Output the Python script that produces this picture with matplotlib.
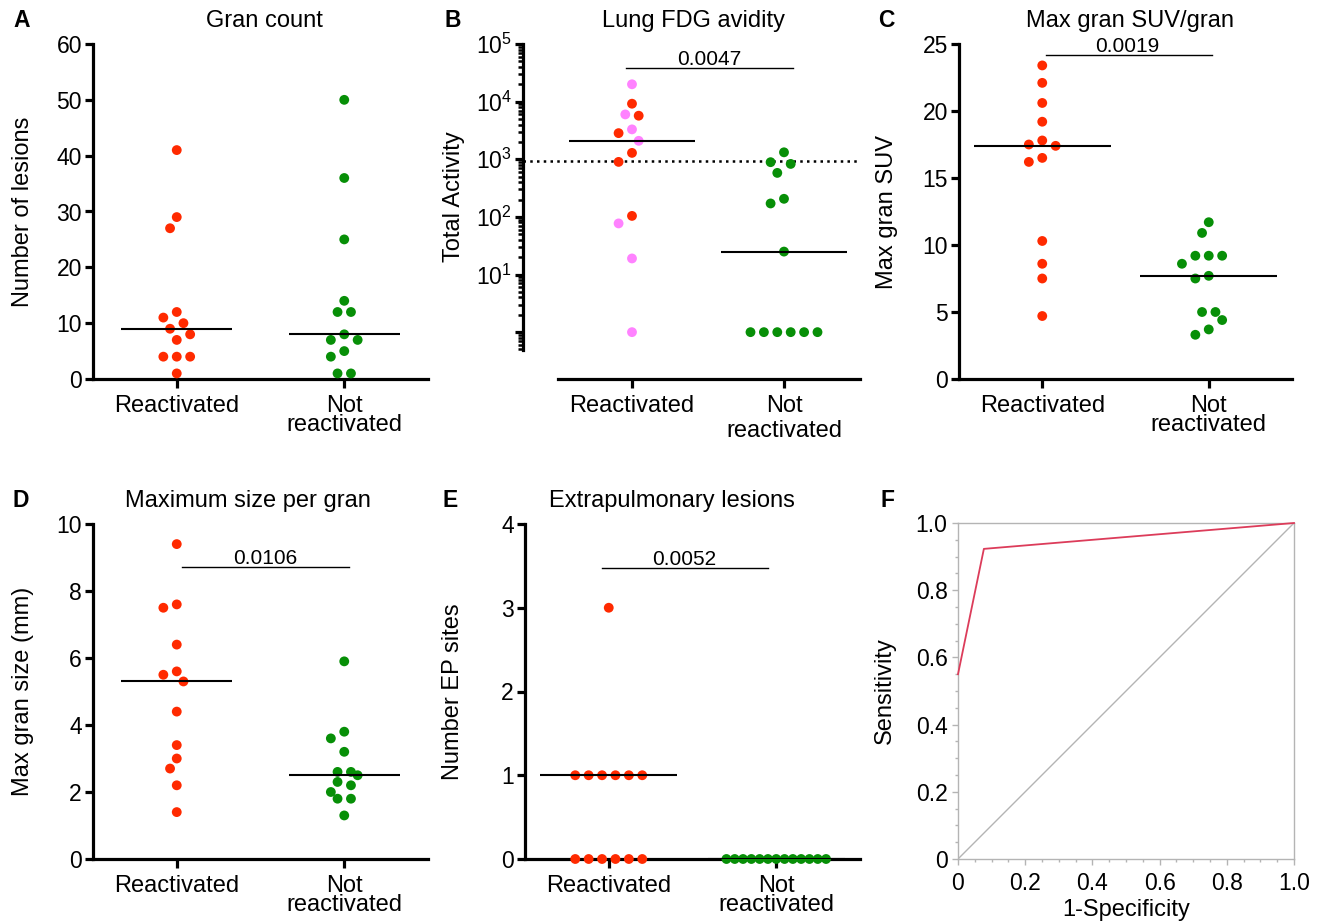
import matplotlib
matplotlib.use('Agg')
import matplotlib.pyplot as plt
import matplotlib.ticker as mticker
import matplotlib.transforms as mtransforms
import numpy as np

plt.rcParams['font.family'] = ['Liberation Sans', 'DejaVu Sans']

groups = ['Reactivated', 'Not\nreactivated']

# A - gran count
count_react = [41, 29, 27, 12, 11, 10, 9, 8, 7, 4, 4, 4, 1]
count_not = [50, 36, 25, 14, 12, 12, 8, 7, 7, 5, 4, 1, 1]

# B - lung FDG avidity (total activity), pink = second subgroup of reactivated
fdg_react_red = [9200, 5700, 2840, 1290, 900, 104]
fdg_react_pink = [20000, 6000, 3300, 2090, 77, 19, 1]
fdg_not = [1320, 890, 830, 580, 206, 171, 25, 1, 1, 1, 1, 1, 1]
fdg_cutoff = 930
p_fdg = '0.0047'

# C - max gran SUV
suv_react = [23.4, 22.1, 20.6, 19.2, 17.8, 17.5, 17.4, 16.5, 16.2, 10.3, 8.6, 7.5, 4.7]
suv_not = [11.7, 10.9, 9.2, 9.2, 9.2, 8.6, 7.7, 7.5, 5.0, 5.0, 4.4, 3.7, 3.3]
p_suv = '0.0019'

# D - max gran size (mm)
size_react = [9.4, 7.6, 7.5, 6.4, 5.6, 5.5, 5.3, 4.4, 3.4, 3.0, 2.7, 2.2, 1.4]
size_not = [5.9, 3.8, 3.6, 3.2, 2.6, 2.6, 2.5, 2.3, 2.2, 2.0, 1.8, 1.8, 1.3]
p_size = '0.0106'

# E - extrapulmonary sites
ep_react = [3, 1, 1, 1, 1, 1, 1, 0, 0, 0, 0, 0, 0]
ep_not = [0, 0, 0, 0, 0, 0, 0, 0, 0, 0, 0, 0, 0]
p_ep = '0.0052'

# F - ROC curve
roc_fpr = [0, 0.077, 1.0]
roc_tpr = [0.55, 0.923, 1.0]

RED = '#ff2a00'
GREEN = '#078f07'
PINK = '#ff82ff'

W, H = 1328, 922
fig = plt.figure(figsize=(W / 100, H / 100), dpi=100)


def px_axes(x0, y0, x1, y1):
    return fig.add_axes([x0 / W, 1 - y1 / H, (x1 - x0) / W, (y1 - y0) / H])


def style_dot(ax, ylabel, labelx):
    for s in ['top', 'right']:
        ax.spines[s].set_visible(False)
    for s in ['left', 'bottom']:
        ax.spines[s].set_linewidth(2.3)
    ax.tick_params(axis='y', which='major', length=6, width=2.3, labelsize=16.5, pad=2)
    ax.tick_params(axis='x', length=6.5, width=2.3, labelsize=17, pad=5)
    ax.set_xticks([0, 1])
    ax.set_xticklabels(groups, linespacing=0.85)
    ax.set_ylabel(ylabel, fontsize=17)
    ax.yaxis.set_label_coords(labelx, 0.5)
    ax.yaxis.label.set_va('center')


def swarm_x(ax, xc, vals, gap=12.0, step=6.7):
    # simple beeswarm in pixel space
    vals = np.asarray(vals, float)
    pts = ax.transData.transform(np.column_stack([np.full(len(vals), xc), vals]))
    x0 = pts[0, 0]
    ys = pts[:, 1]
    offs = np.zeros(len(vals))
    placed = []
    for i in np.argsort(-ys, kind='stable'):
        dx = 0
        for n in range(80):
            k = (n + 1) // 2 * (-1 if n % 2 else 1)
            dx = k * step
            if all((dx - px) ** 2 + (ys[i] - py) ** 2 >= gap ** 2 for px, py in placed):
                break
        offs[i] = dx
        placed.append((dx, ys[i]))
    for v in np.unique(vals):
        m = vals == v
        if m.sum() > 1:
            offs[m] -= offs[m].mean()
    return ax.transData.inverted().transform(np.column_stack([x0 + offs, ys]))[:, 0]


def dots(ax, xc, vals, colors, hw, gap=12.0, step=6.7):
    xs = swarm_x(ax, xc, vals, gap, step)
    ax.scatter(xs, vals, s=50, c=colors, edgecolors='none', zorder=3, clip_on=False)
    ax.hlines(np.median(vals), xc - hw, xc + hw, color='k', lw=1.5, zorder=4)


def pbar(ax, x0, x1, y, xt, txt):
    ax.plot([x0, x1], [y, y], color='k', lw=1, clip_on=False)
    tr = mtransforms.offset_copy(ax.transData, fig=fig, y=3, units='dots')
    ax.text(xt, y, txt, ha='center', va='baseline', fontsize=15, transform=tr)


# ---- A
axA = px_axes(93, 44, 428, 379)
axA.set_xlim(-0.5, 1.5)
axA.set_ylim(0, 60)
axA.set_yticks(range(0, 61, 10))
style_dot(axA, 'Number of lesions', -0.209)
dots(axA, 0, count_react, RED, 0.33)
dots(axA, 1, count_not, GREEN, 0.33)

# ---- B
axB = px_axes(523, 44, 860, 350)
axB.set_yscale('log')
axB.set_xlim(-0.717, 1.5)
axB.set_ylim(0.49, 1e5)
style_dot(axB, 'Total Activity', -0.205)
axB.spines['bottom'].set_position(('outward', 29 * 72 / 100))
axB.spines['bottom'].set_bounds(-0.487, 1.5)
axB.yaxis.set_major_locator(mticker.FixedLocator([1, 10, 100, 1e3, 1e4, 1e5]))
axB.yaxis.set_major_formatter(mticker.FixedFormatter(
    [''] + ['$\\mathregular{10^{%d}}$' % d for d in range(1, 6)]))
minor_b = [m * 10.0 ** d for d in range(-1, 5) for m in range(2, 10) if 0.49 <= m * 10.0 ** d <= 1e5]
axB.yaxis.set_minor_locator(mticker.FixedLocator(minor_b))
axB.yaxis.set_minor_formatter(mticker.NullFormatter())
axB.tick_params(axis='y', which='minor', length=3.5, width=1.8)
axB.axhline(fdg_cutoff, color='k', lw=1.8, dashes=(1, 1.7), zorder=2)
b_vals = fdg_react_red + fdg_react_pink
b_cols = [RED] * len(fdg_react_red) + [PINK] * len(fdg_react_pink)
dots(axB, 0, b_vals, b_cols, 0.416)
dots(axB, 1, fdg_not, GREEN, 0.416)
pbar(axB, -0.04, 1.06, 38600, 0.51, p_fdg)

# ---- C
axC = px_axes(959, 44, 1292, 379)
axC.set_xlim(-0.5, 1.5)
axC.set_ylim(0, 25)
axC.set_yticks(range(0, 26, 5))
style_dot(axC, 'Max gran SUV', -0.216)
dots(axC, 0, suv_react, RED, 0.41)
dots(axC, 1, suv_not, GREEN, 0.41)
pbar(axC, 0.02, 1.02, 24.18, 0.51, p_suv)

# ---- D
axD = px_axes(93, 524, 428, 859)
axD.set_xlim(-0.5, 1.5)
axD.set_ylim(0, 10)
axD.set_yticks(range(0, 11, 2))
style_dot(axD, 'Max gran size (mm)', -0.209)
dots(axD, 0, size_react, RED, 0.33)
dots(axD, 1, size_not, GREEN, 0.33)
pbar(axD, 0.03, 1.03, 8.73, 0.53, p_size)

# ---- E
axE = px_axes(525, 524, 860, 859)
axE.set_xlim(-0.5, 1.5)
axE.set_ylim(0, 4)
axE.set_yticks(range(0, 5))
style_dot(axE, 'Number EP sites', -0.215)
dots(axE, 0, ep_react, RED, 0.41)
dots(axE, 1, ep_not, GREEN, 0.41, gap=8.0, step=8.3)
pbar(axE, -0.04, 0.95, 3.48, 0.45, p_ep)

# ---- F
GRAY = '#b4b4b4'
axF = px_axes(958, 523, 1294, 859)
axF.plot([0, 1], [0, 1], color=GRAY, lw=1)
axF.plot(roc_fpr, roc_tpr, color='#dc3c5a', lw=1.3, clip_on=False, zorder=3)
axF.set_xlim(0, 1)
axF.set_ylim(0, 1)
for s in axF.spines.values():
    s.set_color(GRAY)
    s.set_linewidth(1)
fmtF = mticker.FuncFormatter(lambda v, p: '0' if abs(v) < 1e-9 else '%.1f' % v)
for a in (axF.xaxis, axF.yaxis):
    a.set_major_locator(mticker.MultipleLocator(0.2))
    a.set_minor_locator(mticker.MultipleLocator(0.05))
    a.set_major_formatter(fmtF)
axF.tick_params(which='both', color=GRAY, labelcolor='k', width=1, labelsize=16.5)
axF.tick_params(which='major', length=4.5)
axF.tick_params(which='minor', length=2.5)
axF.tick_params(axis='x', pad=5)
axF.tick_params(axis='y', pad=3)
axF.set_xlabel('1-Specificity', fontsize=17, labelpad=3)
axF.set_ylabel('Sensitivity', fontsize=17)
axF.yaxis.set_label_coords(-0.217, 0.5)
axF.yaxis.label.set_va('center')

# titles and panel letters
titles = [('Gran count', 264, 27), ('Lung FDG avidity', 694, 27), ('Max gran SUV/gran', 1130, 27),
          ('Maximum size per gran', 248, 507), ('Extrapulmonary lesions', 672, 507)]
for t, x, y in titles:
    fig.text(x / W, 1 - y / H, t, ha='center', va='baseline', fontsize=17)
letters = [('A', 13, 27), ('B', 445, 27), ('C', 878, 27), ('D', 13, 507), ('E', 443, 507), ('F', 881, 507)]
for t, x, y in letters:
    fig.text(x / W, 1 - y / H, t, ha='left', va='baseline', fontsize=16.5, fontweight='bold')

fig.savefig('out.png', dpi=100)
